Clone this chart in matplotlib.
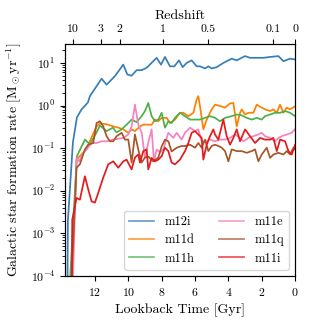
import numpy as np
import matplotlib
matplotlib.use("Agg")
import matplotlib.pyplot as plt

plt.rcParams['font.family'] = 'serif'
plt.rcParams['font.serif'] = ['cmr10']
plt.rcParams['mathtext.fontset'] = 'cm'
plt.rcParams['axes.formatter.use_mathtext'] = True

# lookback time [Gyr] and log10 SFR [Msun/yr]
t_m12i = [13.65, 13.62, 13.32, 13.08, 12.80, 12.42, 12.30, 11.60, 11.30, 10.80,
          10.30, 10.06, 9.80, 9.50, 9.20, 8.90, 8.30, 8.04, 7.80, 7.50,
          7.24, 6.96, 6.74, 6.50, 6.20, 5.90, 5.70, 5.40, 5.20, 5.00,
          4.70, 4.30, 3.80, 3.50, 3.00, 2.70, 1.90, 1.50, 1.00, 0.70,
          0.30, 0.0]
lsfr_m12i = [-4.5, -2.7, -0.87, -0.28, -0.09, 0.07, 0.22, 0.63, 0.49, 0.69,
             0.96, 0.73, 0.70, 0.83, 0.83, 0.885, 1.12, 0.96, 1.14, 0.92,
             0.92, 1.06, 0.90, 1.00, 1.06, 0.92, 0.92, 0.87, 0.92, 0.87,
             0.90, 1.00, 1.10, 1.06, 1.16, 1.12, 1.12, 1.14, 1.16, 1.04,
             1.10, 1.08]

t_m11d = [13.45, 13.10, 12.86, 12.50, 12.26, 11.90, 11.70, 11.30, 10.90, 10.60,
          10.30, 10.00, 9.80, 9.60, 9.30, 9.10, 8.60, 8.40, 8.20, 8.00,
          7.70, 7.50, 7.20, 6.90, 6.70, 6.40, 6.10, 5.90, 5.80, 5.70,
          5.50, 5.30, 5.00, 4.80, 4.50, 4.20, 3.90, 3.70, 3.50, 3.30,
          3.20, 3.00, 2.80, 2.50, 2.30, 2.00, 1.80, 1.50, 1.30, 1.10,
          0.90, 0.70, 0.50, 0.30, 0.0]
lsfr_m11d = [-4.5, -1.27, -1.17, -1.02, -0.80, -0.49, -0.42, -0.44, -0.49, -0.52,
             -0.56, -0.64, -0.56, -0.60, -0.49, -0.45, -0.45, -0.33, -0.37, -0.29,
             -0.29, -0.41, -0.33, -0.17, -0.17, -0.25, -0.17, 0.14, 0.22, -0.02,
             -0.56, -0.33, -0.09, 0.02, -0.01, -0.05, 0.05, 0.06, -0.49, -0.17,
             -0.09, -0.21, -0.17, -0.17, 0.02, -0.05, -0.09, -0.13, -0.09, -0.17,
             0.02, -0.17, -0.05, -0.09, -0.02]

t_m11h = [13.55, 13.08, 12.60, 12.30, 11.90, 11.70, 11.30, 10.92, 10.70, 10.40,
          10.10, 9.80, 9.50, 9.20, 9.00, 8.80, 8.60, 8.40, 8.20, 8.00,
          7.80, 7.60, 7.40, 7.20, 6.90, 6.60, 6.30, 6.00, 5.70, 5.40,
          5.10, 4.80, 4.50, 4.20, 3.80, 3.50, 3.20, 2.90, 2.60, 2.30,
          2.00, 1.80, 1.50, 1.20, 0.90, 0.60, 0.30, 0.0]
lsfr_m11h = [-4.5, -1.19, -0.80, -0.91, -0.63, -0.47, -0.60, -0.52, -0.63, -0.56,
             -0.45, -0.33, -0.39, -0.25, -0.13, 0.06, -0.25, -0.37, -0.33, -0.17,
             -0.52, -0.37, -0.41, -0.29, -0.17, -0.25, -0.33, -0.33, -0.33, -0.29,
             -0.25, -0.29, -0.37, -0.29, -0.25, -0.21, -0.23, -0.29, -0.33, -0.29,
             -0.33, -0.25, -0.21, -0.17, -0.17, -0.13, -0.17, -0.25]

t_m11e = [13.35, 13.10, 12.94, 12.70, 12.50, 12.20, 11.90, 11.60, 11.30, 10.90,
          10.60, 10.30, 10.00, 9.80, 9.60, 9.40, 9.20, 9.00, 8.80, 8.60,
          8.46, 8.30, 8.10, 7.90, 7.60, 7.30, 7.10, 6.80, 6.60, 6.30,
          6.00, 5.80, 5.60, 5.30, 5.10, 4.80, 4.50, 4.20, 3.90, 3.60,
          3.30, 3.10, 2.80, 2.50, 2.20, 2.00, 1.80, 1.50, 1.20, 1.00,
          0.80, 0.50, 0.20, 0.0]
lsfr_m11e = [-4.5, -1.23, -1.31, -1.11, -1.03, -0.88, -0.88, -0.84, -0.84, -0.80,
             -0.78, -0.76, -0.68, -0.49, 0.02, -0.45, -0.63, -1.22, -0.87, -0.56,
             -1.31, -1.03, -1.10, -1.03, -0.64, -0.76, -0.64, -0.80, -0.64, -0.52,
             -0.60, -0.56, -0.84, -0.84, -0.80, -0.84, -0.80, -0.80, -0.76, -0.68,
             -0.76, -0.84, -0.76, -0.72, -0.68, -0.64, -0.72, -0.76, -0.84, -0.76,
             -0.72, -0.68, -0.64, -0.55]

t_m11q = [13.45, 13.10, 12.90, 12.60, 12.40, 12.10, 11.90, 11.70, 11.50, 11.30,
          11.10, 10.90, 10.70, 10.40, 10.20, 10.00, 9.80, 9.60, 9.40, 9.20,
          9.00, 8.80, 8.50, 8.20, 8.00, 7.80, 7.60, 7.40, 7.10, 6.80,
          6.60, 6.30, 6.00, 5.80, 5.60, 5.40, 5.20, 5.00, 4.80, 4.60,
          4.40, 4.20, 4.00, 3.80, 3.50, 3.20, 2.90, 2.60, 2.40, 2.20,
          2.00, 1.70, 1.50, 1.30, 1.00, 0.70, 0.50, 0.30, 0.10, 0.0]
lsfr_m11q = [-4.5, -1.46, -1.38, -1.03, -0.92, -0.88, -0.41, -0.37, -0.49, -0.72,
             -0.84, -0.84, -0.72, -0.64, -0.80, -0.80, -1.34, -0.68, -1.03, -1.34,
             -1.22, -1.20, -1.31, -1.22, -0.96, -0.80, -0.84, -1.08, -0.99, -0.95,
             -0.95, -0.92, -0.99, -0.88, -0.99, -0.80, -1.07, -0.95, -0.92, -0.95,
             -0.99, -1.07, -1.31, -1.03, -1.07, -1.07, -1.11, -1.07, -1.03, -1.31,
             -1.15, -0.99, -1.23, -1.15, -1.11, -1.15, -1.07, -1.15, -0.99, -1.03]

t_m11i = [13.38, 13.36, 13.10, 12.90, 12.60, 12.40, 12.20, 12.00, 11.80, 11.50,
          11.20, 10.90, 10.60, 10.30, 10.10, 9.80, 9.60, 9.40, 9.30, 9.10,
          8.90, 8.80, 8.60, 8.40, 8.20, 8.00, 7.80, 7.60, 7.40, 7.20,
          6.90, 6.60, 6.40, 6.20, 6.00, 5.80, 5.60, 5.50, 5.30, 5.10,
          4.90, 4.80, 4.60, 4.30, 4.10, 3.90, 3.70, 3.50, 3.30, 3.00,
          2.70, 2.40, 2.10, 1.80, 1.50, 1.30, 1.10, 0.90, 0.60, 0.40,
          0.20, 0.0]
lsfr_m11i = [-4.5, -2.68, -2.17, -2.21, -1.66, -1.97, -2.25, -2.28, -2.05, -1.69,
             -1.38, -1.31, -1.46, -1.31, -1.27, -1.50, -1.22, -1.15, -1.34, -1.07,
             -1.03, -1.50, -1.23, -1.31, -1.27, -1.19, -0.99, -1.07, -1.34, -1.38,
             -1.27, -1.07, -0.88, -0.64, -0.60, -0.68, -0.76, -1.27, -0.92, -0.72,
             -0.56, -0.68, -0.80, -0.33, -0.72, -0.92, -0.76, -0.56, -0.84, -0.56,
             -0.72, -0.88, -0.76, -0.80, -0.80, -0.76, -1.07, -0.80, -0.84, -1.07,
             -1.15, -0.92]

sims = ['m12i', 'm11d', 'm11h', 'm11e', 'm11q', 'm11i']
times = [t_m12i, t_m11d, t_m11h, t_m11e, t_m11q, t_m11i]
lsfrs = [lsfr_m12i, lsfr_m11d, lsfr_m11h, lsfr_m11e, lsfr_m11q, lsfr_m11i]
colors = ['#377eb8', '#ff7f00', '#4daf4a', '#f781bf', '#a65628', '#e41a1c']

z_ticks = [10, 3, 2, 1, 0.5, 0.1, 0]
z_labels = ['10', '3', '2', '1', '0.5', '0.1', '0']

H0, Om = 67.7, 0.31
t_hubble = 977.8 / H0


def lookback(z):
    if z == 0:
        return 0.0
    zz = np.linspace(0, z, 4000)
    E = np.sqrt(Om * (1 + zz)**3 + 1 - Om)
    return t_hubble * np.trapezoid(1.0 / ((1 + zz) * E), zz)


fig = plt.figure(figsize=(3.09, 3.25), dpi=100)
ax = fig.add_axes([0.21, 0.151, 0.745, 0.714])

for name, t, l, c in zip(sims, times, lsfrs, colors):
    ax.plot(t, 10**np.array(l), color=c, lw=1.25, label=name)

ax.set_yscale('log')
ax.set_xlim(13.8, 0)
ax.set_ylim(1e-4, 28)
ax.set_xticks([12, 10, 8, 6, 4, 2, 0])
ax.tick_params(labelsize=8.5)
ax.set_xlabel('Lookback Time [Gyr]', fontsize=10)
ax.set_ylabel(r'Galactic star formation rate [M$_\odot$yr$^{-1}$]', fontsize=10,
              labelpad=5)

leg = ax.legend(ncol=2, loc='lower right', fontsize=9, columnspacing=2.0)
for h in leg.get_lines():
    h.set_alpha(0.75)

ax2 = ax.twiny()
ax2.set_xlim(ax.get_xlim())
ax2.set_xticks([lookback(z) for z in z_ticks])
ax2.set_xticklabels(z_labels)
ax2.tick_params(labelsize=8.5)
ax2.set_xlabel('Redshift', fontsize=10)

fig.savefig('out.png', dpi=100)
